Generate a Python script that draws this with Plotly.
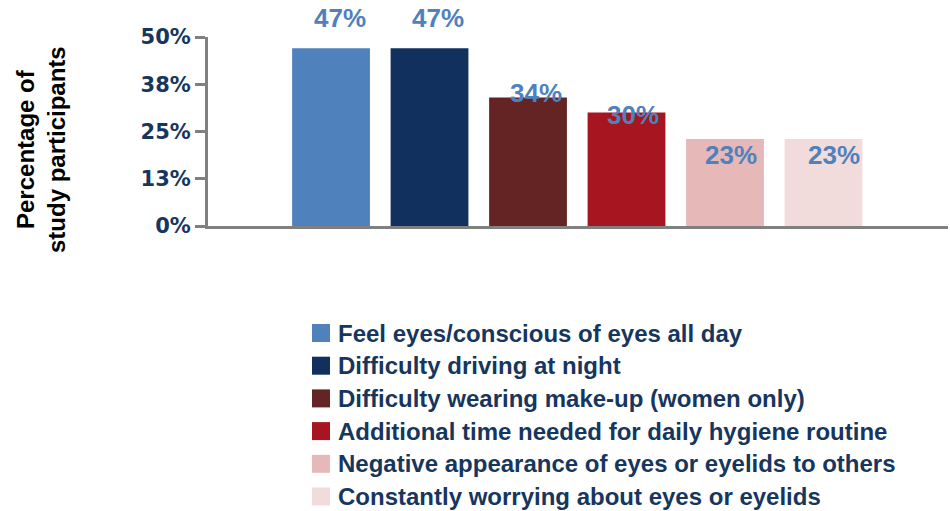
import plotly.graph_objects as go

# Survey results: share of study participants reporting each impact
categories = [
    "Feel eyes/conscious of eyes all day",
    "Difficulty driving at night",
    "Difficulty wearing make-up (women only)",
    "Additional time needed for daily hygiene routine",
    "Negative appearance of eyes or eyelids to others",
    "Constantly worrying about eyes or eyelids",
]
values = [47, 47, 34, 30, 23, 23]
tick_values = [0, 12.5, 25, 37.5, 50]
tick_labels = ["0%", "13%", "25%", "38%", "50%"]

colors = ["#4F81BD", "#11305E", "#632423", "#A71521", "#E6B9B8", "#F2DCDB"]

# Value-label placement relative to each bar top (pixels)
label_dx = [9, 8, 7.5, 6, 5.5, 10.5]
label_dy = [30.5, 30.5, 4.2, -2.4, -16.4, -16.4]

NAVY = "#17365D"
GRAY = "#808080"
TEXT_FONT = "Liberation Sans, Arial, sans-serif"

# Plot area in pixels
PLOT_L, PLOT_W, PLOT_B, PLOT_H = 208, 740, 226, 189


def px_x(p):
    return (p - PLOT_L) / PLOT_W


def px_y(p):
    return (PLOT_B - p) / PLOT_H


fig = go.Figure()
for i, (name, v, c) in enumerate(zip(categories, values, colors)):
    fig.add_trace(go.Bar(
        x=[i], y=[v], name=name, width=0.79,
        marker=dict(color=c, line=dict(width=0)),
        showlegend=False,
    ))
    fig.add_annotation(
        x=i, y=v, xref="x", yref="y", text=f"{v}%", showarrow=False,
        xshift=label_dx[i], yshift=label_dy[i],
        font=dict(family=TEXT_FONT, size=26, color="#4F81BD", weight="bold"),
    )

# Legend: colour swatch + label per category
for i, (name, c) in enumerate(zip(categories, colors)):
    row_y = px_y(333 + i * 32.7)
    fig.add_shape(
        type="rect", xref="paper", yref="paper",
        xsizemode="pixel", ysizemode="pixel",
        xanchor=px_x(312), yanchor=row_y,
        x0=0, x1=18, y0=-9, y1=9,
        fillcolor=c, line=dict(width=0),
    )
    fig.add_annotation(
        x=px_x(336), y=row_y, xref="paper", yref="paper",
        xanchor="left", yanchor="middle", showarrow=False, text=name,
        font=dict(family=TEXT_FONT, size=24, color=NAVY, weight="bold"),
    )

# Y axis title
fig.add_annotation(
    x=px_x(41), y=px_y(150), xref="paper", yref="paper",
    text="Percentage of<br>study participants", textangle=-90,
    showarrow=False, xanchor="center", yanchor="middle",
    font=dict(family=TEXT_FONT, size=24, color="#000000", weight="bold"),
)

fig.update_layout(
    width=950, height=511,
    margin=dict(l=PLOT_L, r=950 - PLOT_L - PLOT_W, t=PLOT_B - PLOT_H, b=511 - PLOT_B),
    paper_bgcolor="white", plot_bgcolor="white",
    barmode="overlay", showlegend=False,
    xaxis=dict(
        range=[-1.249, 6.264], showticklabels=False, ticks="",
        showgrid=False, zeroline=False,
        showline=True, linecolor=GRAY, linewidth=3,
    ),
    yaxis=dict(
        range=[0, 50], tickvals=tick_values, ticktext=tick_labels,
        ticks="outside", ticklen=10, tickwidth=2.5, tickcolor=GRAY,
        showgrid=False, zeroline=False,
        showline=True, linecolor=GRAY, linewidth=3,
        tickfont=dict(family="DejaVu Sans", size=21, color=NAVY, weight="bold"),
    ),
)

fig.write_html("out.html")
